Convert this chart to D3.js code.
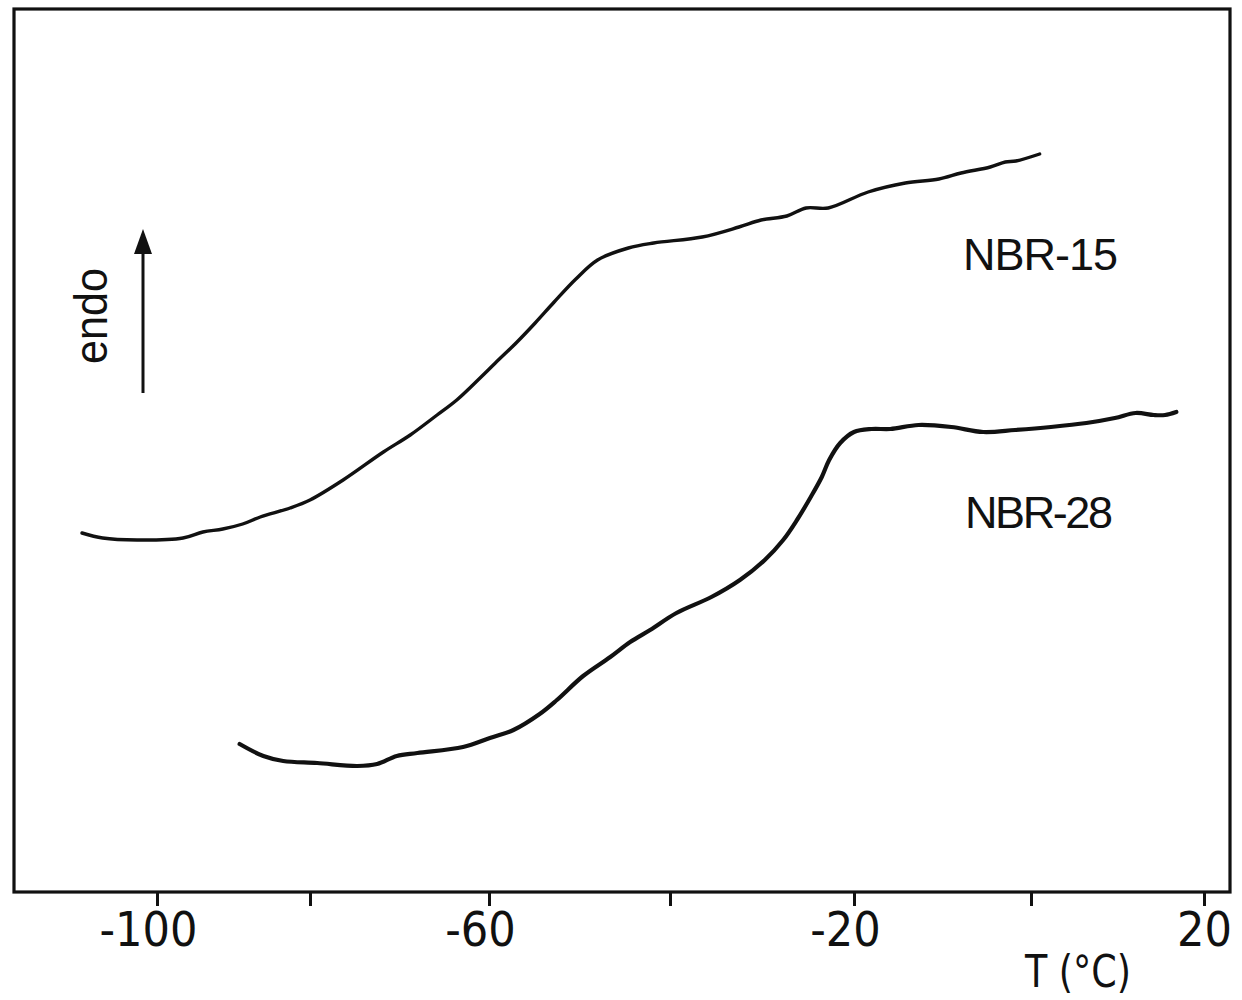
<!DOCTYPE html>
<html>
<head>
<meta charset="utf-8">
<script src="https://cdn.jsdelivr.net/npm/d3@7"></script>
<style>
  html, body { margin: 0; padding: 0; background: #fff; }
  svg { display: block; }
</style>
</head>
<body>
<svg id="chart" width="1242" height="1000"></svg>
<script>
// DSC traces of two nitrile rubbers, heat flow (arbitrary units, endo up) vs temperature
const tickTemps = [-100, -80, -60, -40, -20, 0, 20];
const labelledTicks = [-100, -60, -20, 20];

const nbr15T = [-109.8, -107.1, -102.6, -96.6, -94.0, -91.4, -88.8, -86.5, -82.6, -80.0,
  -76.3, -71.8, -68.8, -65.8, -63.6, -61.0, -59.3, -56.9, -54.9, -52.8, -50.4, -48.0,
  -44.6, -41.8, -36.5, -32.5, -30.1, -27.3, -25.2, -22.8, -18.4, -14.2, -10.4, -7.9,
  -4.6, -2.9, -1.7, 1.0];
const nbr15Q = [35.9, 35.4, 35.2, 35.4, 36.0, 36.3, 36.8, 37.5, 38.4, 39.2,
  41.2, 44.0, 45.7, 47.7, 49.2, 51.4, 52.9, 55.0, 56.9, 59.0, 61.3, 63.2,
  64.4, 64.9, 65.5, 66.5, 67.2, 67.6, 68.4, 68.4, 70.0, 70.9, 71.3, 71.9,
  72.5, 73.0, 73.1, 73.8];

const nbr28T = [-89.2, -86.1, -83.5, -79.2, -74.7, -72.5, -70.3, -68.0, -62.9, -59.9,
  -57.3, -54.4, -52.5, -49.6, -46.6, -44.4, -42.2, -39.3, -35.5, -32.4, -29.7, -27.7,
  -26.2, -24.7, -23.5, -22.7, -21.5, -20.0, -18.0, -15.9, -12.7, -9.0, -5.4, -1.8,
  2.3, 6.4, 9.7, 12.1, 14.2, 15.5, 16.8];
const nbr28Q = [14.8, 13.6, 13.1, 12.9, 12.6, 12.8, 13.6, 13.9, 14.5, 15.4,
  16.2, 17.8, 19.2, 21.6, 23.5, 25.0, 26.2, 27.9, 29.5, 31.2, 33.2, 35.2,
  37.2, 39.5, 41.5, 43.2, 44.9, 46.0, 46.3, 46.3, 46.7, 46.5, 46.0, 46.2,
  46.5, 46.9, 47.4, 47.9, 47.7, 47.7, 48.0];

const seriesNames = ["NBR-15", "NBR-28"];
const axisTitle = "T (°C)";
const arrowLabel = "endo";

const svg = d3.select("#chart");
const frame = { left: 14, right: 1230, top: 9, bottom: 892 };

// temperature axis as ruled on the recorder chart (tick spacing is not perfectly even)
const x = d3.scaleLinear()
  .domain(tickTemps)
  .range([157, 310, 489, 670, 854, 1031, 1204]);

const y = d3.scaleLinear()
  .domain([0, 88.3])
  .range([frame.bottom, frame.top]);

const ink = "#111";

// frame
svg.append("rect")
  .attr("x", frame.left).attr("y", frame.top)
  .attr("width", frame.right - frame.left)
  .attr("height", frame.bottom - frame.top)
  .attr("fill", "none")
  .attr("stroke", ink)
  .attr("stroke-width", 3.2);

// bottom axis
const xAxis = d3.axisBottom(x)
  .tickValues(tickTemps)
  .tickSize(14)
  .tickSizeOuter(0)
  .tickPadding(6)
  .tickFormat(d => labelledTicks.includes(d) ? String(d).replace("−", "-") : "");

const gx = svg.append("g")
  .attr("transform", `translate(0,${frame.bottom})`)
  .call(xAxis);
gx.select(".domain").remove();
gx.selectAll(".tick line").attr("stroke", ink).attr("stroke-width", 3);
gx.selectAll(".tick text")
  .attr("fill", ink)
  .attr("font-family", "'Liberation Sans Narrow', 'DejaVu Sans Condensed', sans-serif")
  .attr("font-size", 48)
  .attr("dx", d => d < 0 ? -9 : 0);

svg.append("text")
  .attr("x", 1025).attr("y", 987)
  .attr("font-family", "'Liberation Sans Narrow', 'DejaVu Sans Condensed', sans-serif")
  .attr("font-size", 44)
  .attr("fill", ink)
  .attr("textLength", 106)
  .attr("lengthAdjust", "spacingAndGlyphs")
  .text(axisTitle);

// curves
const line = d3.line()
  .x(d => x(d[0]))
  .y(d => y(d[1]))
  .curve(d3.curveCatmullRom.alpha(0.5));

const curves = [
  { pts: d3.zip(nbr15T, nbr15Q), width: 3.4 },
  { pts: d3.zip(nbr28T, nbr28Q), width: 4.2 }
];
svg.selectAll("path.trace")
  .data(curves)
  .join("path")
  .attr("class", "trace")
  .attr("d", d => line(d.pts))
  .attr("fill", "none")
  .attr("stroke", ink)
  .attr("stroke-width", d => d.width)
  .attr("stroke-linejoin", "round")
  .attr("stroke-linecap", "round");

// curve labels
const labelPos = [{ x: 963, y: 270 }, { x: 965, y: 528 }];
svg.selectAll("text.series")
  .data(seriesNames)
  .join("text")
  .attr("class", "series")
  .attr("x", (d, i) => labelPos[i].x)
  .attr("y", (d, i) => labelPos[i].y)
  .attr("font-family", "'Liberation Sans', 'DejaVu Sans', sans-serif")
  .attr("font-size", 45)
  .attr("fill", ink)
  .attr("textLength", (d, i) => i === 0 ? 155 : 148)
  .attr("lengthAdjust", "spacing")
  .text(d => d);

// endo arrow
svg.append("line")
  .attr("x1", 143).attr("y1", 393)
  .attr("x2", 143).attr("y2", 250)
  .attr("stroke", ink).attr("stroke-width", 3);
svg.append("path")
  .attr("d", "M143,229 L152,254 L134,254 Z")
  .attr("fill", ink);

svg.append("text")
  .attr("transform", "translate(107,364) rotate(-90)")
  .attr("font-family", "'Liberation Sans', 'DejaVu Sans', sans-serif")
  .attr("font-size", 46)
  .attr("fill", ink)
  .attr("textLength", 96)
  .attr("lengthAdjust", "spacingAndGlyphs")
  .text(arrowLabel);
</script>
</body>
</html>
